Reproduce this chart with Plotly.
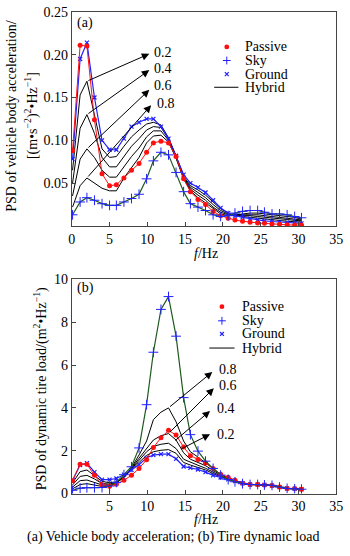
import plotly.graph_objects as go

# ---------------- data ----------------
freq = [0.1, 1.1, 2.0, 3.0, 4.0, 5.0, 5.9, 6.9, 7.9, 8.9, 9.9, 10.8, 11.8, 12.8, 13.8, 14.8,
        15.7, 16.7, 17.7, 18.7, 19.7, 20.7, 21.6, 22.6, 23.6, 24.6, 25.5, 26.5, 27.5, 28.5, 29.5, 30.4]

# (a) vehicle body acceleration PSD
acc_passive = [0.088, 0.211, 0.210, 0.124, 0.061, 0.047, 0.048, 0.056, 0.065, 0.073, 0.086, 0.097,
               0.099, 0.097, 0.081, 0.055, 0.040, 0.031, 0.025, 0.017, 0.012, 0.009, 0.0068, 0.0055,
               0.0042, 0.0035, 0.003, 0.0022, 0.002, 0.0013, 0.001, 0.001]
acc_sky = [0.013, 0.028, 0.033, 0.030, 0.026, 0.024, 0.024, 0.028, 0.032, 0.037, 0.055, 0.076,
           0.086, 0.083, 0.0625, 0.040, 0.026, 0.022, 0.018, 0.013, 0.011, 0.012, 0.015, 0.017,
           0.018, 0.018, 0.016, 0.014, 0.014, 0.013, 0.011, 0.0095]
acc_ground = [0.078, 0.195, 0.214, 0.150, 0.100, 0.089, 0.089, 0.102, 0.116, 0.121, 0.125, 0.125,
              0.116, 0.102, 0.082, 0.060, 0.050, 0.045, 0.039, 0.030, 0.021, 0.015, 0.012, 0.010,
              0.0085, 0.007, 0.006, 0.0052, 0.0045, 0.0038, 0.003, 0.003]
acc_hyb_02 = [0.065, 0.153, 0.169, 0.128, 0.090, 0.080, 0.081, 0.093, 0.104, 0.112, 0.119, 0.121,
              0.118, 0.103, 0.082, 0.058, 0.047, 0.042, 0.036, 0.028, 0.020, 0.015, 0.012, 0.011,
              0.010, 0.009, 0.008, 0.007, 0.006, 0.0055, 0.005, 0.0045]
acc_hyb_04 = [0.050, 0.114, 0.130, 0.108, 0.080, 0.069, 0.069, 0.081, 0.093, 0.102, 0.112, 0.116,
              0.115, 0.102, 0.081, 0.057, 0.045, 0.039, 0.033, 0.025, 0.018, 0.014, 0.012, 0.012,
              0.012, 0.011, 0.010, 0.009, 0.008, 0.0075, 0.0065, 0.006]
acc_hyb_06 = [0.035, 0.078, 0.090, 0.080, 0.065, 0.057, 0.057, 0.069, 0.081, 0.091, 0.104, 0.111,
              0.111, 0.100, 0.080, 0.056, 0.043, 0.036, 0.030, 0.022, 0.016, 0.013, 0.013, 0.013,
              0.013, 0.013, 0.012, 0.011, 0.010, 0.009, 0.008, 0.007]
acc_hyb_08 = [0.022, 0.047, 0.056, 0.050, 0.044, 0.041, 0.041, 0.056, 0.068, 0.080, 0.097, 0.105,
              0.106, 0.098, 0.079, 0.055, 0.041, 0.033, 0.027, 0.020, 0.014, 0.012, 0.013, 0.014,
              0.015, 0.015, 0.014, 0.013, 0.012, 0.011, 0.010, 0.008]

# (b) tire dynamic load PSD
tire_passive = [0.6, 1.37, 1.37, 0.85, 0.42, 0.34, 0.43, 0.62, 0.85, 1.17, 1.58, 2.15, 2.6, 2.95,
                2.73, 2.17, 1.77, 1.59, 1.42, 1.17, 0.9, 0.76, 0.62, 0.48, 0.42, 0.42, 0.4, 0.38,
                0.3, 0.24, 0.23, 0.2]
tire_sky = [0.15, 0.25, 0.27, 0.27, 0.28, 0.35, 0.52, 0.88, 1.25, 2.13, 4.15, 6.6, 8.6, 9.2, 7.35,
            4.48, 2.75, 1.98, 1.51, 1.17, 0.86, 0.65, 0.55, 0.46, 0.42, 0.42, 0.4, 0.38, 0.3, 0.24,
            0.22, 0.2]
tire_ground = [0.62, 1.33, 1.42, 1.0, 0.65, 0.65, 0.7, 0.88, 1.1, 1.35, 1.67, 1.79, 1.84, 1.84,
               1.62, 1.26, 1.2, 1.12, 1.0, 0.85, 0.75, 0.66, 0.58, 0.48, 0.42, 0.42, 0.4, 0.37,
               0.3, 0.24, 0.22, 0.2]
tire_hyb_02 = [0.5, 1.02, 1.1, 0.85, 0.57, 0.5, 0.55, 0.76, 1.13, 1.45, 1.78, 1.95, 2.02, 2.05,
               1.88, 1.45, 1.33, 1.22, 1.1, 0.93, 0.78, 0.68, 0.6, 0.48, 0.42, 0.42, 0.4, 0.37,
               0.3, 0.24, 0.22, 0.2]
tire_hyb_04 = [0.4, 0.8, 0.85, 0.68, 0.47, 0.44, 0.52, 0.75, 1.15, 1.55, 1.95, 2.2, 2.3, 2.35,
               2.1, 1.6, 1.45, 1.32, 1.18, 1.0, 0.82, 0.7, 0.6, 0.48, 0.42, 0.42, 0.4, 0.37,
               0.3, 0.24, 0.22, 0.2]
tire_hyb_06 = [0.3, 0.6, 0.63, 0.52, 0.4, 0.4, 0.5, 0.76, 1.17, 1.65, 2.1, 2.5, 2.7, 2.8,
               2.5, 1.9, 1.6, 1.45, 1.3, 1.08, 0.86, 0.72, 0.6, 0.48, 0.42, 0.42, 0.4, 0.37,
               0.3, 0.24, 0.22, 0.2]
tire_hyb_08 = [0.22, 0.42, 0.46, 0.38, 0.33, 0.36, 0.48, 0.78, 1.2, 1.8, 2.45, 3.45, 3.8, 4.0,
               3.35, 2.45, 1.95, 1.7, 1.42, 1.15, 0.9, 0.72, 0.6, 0.48, 0.42, 0.42, 0.41, 0.37,
               0.3, 0.24, 0.22, 0.2]

hyb_labels = ["0.2", "0.4", "0.6", "0.8"]
legend_names = ["Passive", "Sky", "Ground", "Hybrid"]
x_ticks = [0, 5, 10, 15, 20, 25, 30, 35]
acc_ticks = [0.05, 0.10, 0.15, 0.20, 0.25]
tire_ticks = [0, 2, 4, 6, 8, 10]

# ---------------- layout helpers ----------------
W, H = 350, 556
FONT = "Liberation Serif"
RED = "#ff1010"
BLUE = "#2020ff"
GREEN = "#1e5a1e"


def fx(p):
    return p / W


def fy(p):
    return 1 - p / H


fig = go.Figure()


def add_panel(xa, ya, hybrids, passive, sky, ground):
    for h in hybrids:
        fig.add_trace(go.Scatter(x=freq, y=h, mode="lines", line=dict(color="black", width=1),
                                 xaxis=xa, yaxis=ya, showlegend=False, hoverinfo="skip"))
    fig.add_trace(go.Scatter(x=freq, y=ground, mode="lines+markers",
                             line=dict(color=BLUE, width=1.2),
                             marker=dict(symbol="x-thin", size=4, line=dict(color=BLUE, width=1.2)),
                             xaxis=xa, yaxis=ya, showlegend=False))
    fig.add_trace(go.Scatter(x=freq, y=passive, mode="lines+markers",
                             line=dict(color=RED, width=1),
                             marker=dict(symbol="circle", size=5, color=RED),
                             xaxis=xa, yaxis=ya, showlegend=False))
    fig.add_trace(go.Scatter(x=freq, y=sky, mode="lines+markers",
                             line=dict(color=GREEN, width=1.2),
                             marker=dict(symbol="cross-thin", size=7, line=dict(color=BLUE, width=1)),
                             xaxis=xa, yaxis=ya, showlegend=False))


add_panel("x", "y", [acc_hyb_02, acc_hyb_04, acc_hyb_06, acc_hyb_08],
          acc_passive, acc_sky, acc_ground)
add_panel("x2", "y2", [tire_hyb_02, tire_hyb_04, tire_hyb_06, tire_hyb_08],
          tire_passive, tire_sky, tire_ground)

axis_style = dict(showline=True, mirror=True, linecolor="#444", linewidth=1, ticks="inside",
                  ticklen=4, tickcolor="#444", showgrid=False, zeroline=False,
                  tickfont=dict(family=FONT, size=14, color="black"))

fig.update_layout(
    width=W, height=H, margin=dict(l=0, r=0, t=0, b=0),
    paper_bgcolor="white", plot_bgcolor="white", showlegend=False,
    font=dict(family=FONT, size=14, color="black"),
    xaxis=dict(domain=[fx(70), fx(343)], anchor="y", range=[0, 35], tickvals=x_ticks, **axis_style),
    yaxis=dict(domain=[fy(225), fy(5)], anchor="x", range=[0, 0.25], tickvals=acc_ticks,
               ticktext=[f"{v:.2f}" for v in acc_ticks], **axis_style),
    xaxis2=dict(domain=[fx(70), fx(343)], anchor="y2", range=[0, 35], tickvals=x_ticks[1:], **axis_style),
    yaxis2=dict(domain=[fy(500), fy(280)], anchor="x2", range=[0, 10], tickvals=tire_ticks, **axis_style),
)

ann = []


def txt(x, y, s, size=14, xanchor="center", angle=0):
    ann.append(dict(x=fx(x), y=fy(y), xref="paper", yref="paper", text=s, showarrow=False,
                    xanchor=xanchor, yanchor="middle", textangle=angle,
                    font=dict(family=FONT, size=size, color="black")))


# panel labels, axis titles, caption
txt(73, 16, "(a)", xanchor="left")
txt(73, 289, "(b)", xanchor="left")
txt(209, 253, "<i>f</i>/Hz")
txt(209, 527, "<i>f</i>/Hz")
txt(8, 112, "PSD of vehicle body acceleration/", angle=-90)
txt(29, 112, "[(m•s<sup>−2</sup>)<sup>2</sup>•Hz<sup>−1</sup>]", angle=-90)
txt(38, 392, "PSD of dynamic tire load/(m<sup>2</sup>•Hz<sup>−1</sup>)", angle=-90)
txt(174, 545, "(a) Vehicle body acceleration; (b) Tire dynamic load", size=14)

# hybrid arrows (data coordinates)
acc_arrows = [  # (tail x, tail y, head x, head y, label x, label y)
    (2.0, 0.169, 10.26, 0.201, 10.65, 0.2025),
    (2.0, 0.130, 10.26, 0.182, 10.65, 0.1835),
    (2.0, 0.090, 10.26, 0.159, 10.65, 0.1635),
    (2.0, 0.056, 10.50, 0.141, 10.95, 0.1430),
]
tire_arrows = [
    (14.3, 2.05, 18.3, 2.77, 19.0, 2.77),
    (13.5, 2.42, 18.3, 3.86, 19.0, 3.95),
    (12.8, 2.80, 18.8, 4.92, 19.2, 5.05),
    (12.8, 4.00, 18.6, 5.68, 19.2, 5.77),
]
for (xr, yr, arrows, labels) in [("x", "y", acc_arrows, hyb_labels),
                                 ("x2", "y2", tire_arrows, hyb_labels)]:
    for (tx, ty, hx, hy, lx, ly), lab in zip(arrows, labels):
        ann.append(dict(x=hx, y=hy, ax=tx, ay=ty, xref=xr, yref=yr, axref=xr, ayref=yr,
                        text="", showarrow=True, arrowhead=2, arrowsize=1.5, arrowwidth=1,
                        arrowcolor="black", standoff=0))
        ann.append(dict(x=lx, y=ly, xref=xr, yref=yr, text=lab, showarrow=False,
                        xanchor="left", yanchor="middle",
                        font=dict(family=FONT, size=14, color="black")))

# manual legends (symbols as shapes, names as text)
shapes = []


def legend(x_sym, x_text, ys, line_x0, line_x1):
    yp, ys_, yg, yh = ys
    shapes.append(dict(type="circle", xref="paper", yref="paper", x0=fx(x_sym - 2.5), x1=fx(x_sym + 2.5),
                       y0=fy(yp + 2.5), y1=fy(yp - 2.5), fillcolor=RED, line=dict(width=0)))
    shapes.append(dict(type="line", xref="paper", yref="paper", x0=fx(x_sym - 4), x1=fx(x_sym + 4),
                       y0=fy(ys_), y1=fy(ys_), line=dict(color=BLUE, width=1)))
    shapes.append(dict(type="line", xref="paper", yref="paper", x0=fx(x_sym), x1=fx(x_sym),
                       y0=fy(ys_ - 4), y1=fy(ys_ + 4), line=dict(color=BLUE, width=1)))
    shapes.append(dict(type="line", xref="paper", yref="paper", x0=fx(x_sym - 2), x1=fx(x_sym + 2),
                       y0=fy(yg - 2), y1=fy(yg + 2), line=dict(color=BLUE, width=1.2)))
    shapes.append(dict(type="line", xref="paper", yref="paper", x0=fx(x_sym - 2), x1=fx(x_sym + 2),
                       y0=fy(yg + 2), y1=fy(yg - 2), line=dict(color=BLUE, width=1.2)))
    shapes.append(dict(type="line", xref="paper", yref="paper", x0=fx(line_x0), x1=fx(line_x1),
                       y0=fy(yh), y1=fy(yh), line=dict(color="black", width=1)))
    for name, y in zip(legend_names, ys):
        txt(x_text, y, name, xanchor="left")


legend(230, 247, (41, 55, 69, 82.5), 217, 242)
legend(225, 244, (308, 322.5, 336, 350.5), 212, 238)

fig.update_layout(annotations=ann, shapes=shapes)
fig.write_html("out.html")
